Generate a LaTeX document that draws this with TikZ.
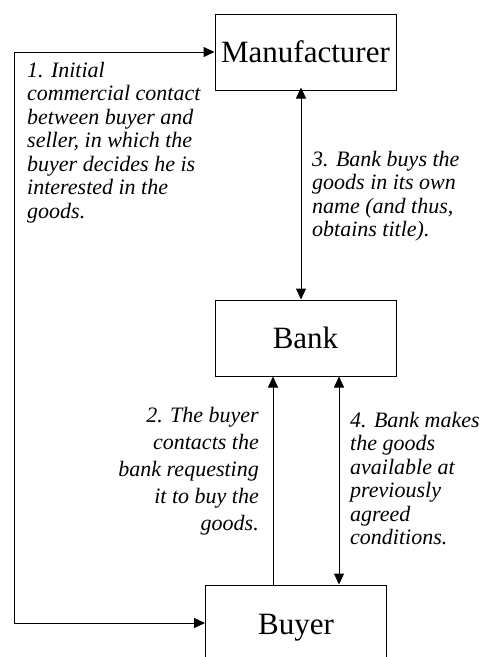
\documentclass[tikz,border=0pt]{standalone}
\usepackage{fontspec}
\setmainfont{Liberation Serif}
\usetikzlibrary{arrows.meta}
\begin{document}
\begin{tikzpicture}[x=1pt,y=-1pt,
  party/.style={draw,line width=1pt,minimum width=181pt,minimum height=76pt,
    inner sep=0pt,font=\fontsize{31}{34}\selectfont},
  note/.style={inner sep=0pt,font=\fontsize{22}{23.5}\selectfont\itshape},
  flow/.style={line width=1pt},
  tip/.tip={Triangle[length=11pt,width=10pt]}]
  \useasboundingbox (0,0) rectangle (481,657);
  \clip (0,0) rectangle (481,657);

  % parties
  \node[party] (mfr)   at (305.5,52)  {Manufacturer};
  \node[party] (bank)  at (305.5,338) {Bank};
  \node[party,minimum height=86pt] (buyer) at (296,628) {Buyer};

  % vertical connector lines
  \coordinate (x2) at (273,0);
  \coordinate (x3) at (301,0);
  \coordinate (x4) at (339,0);
  \coordinate (y1) at (0,623);

  % 1. buyer <-> manufacturer, around the left side
  \draw[flow,tip-tip] (mfr.west) -- ++(-200,0) |- (buyer.west |- y1);
  % 3. manufacturer <-> bank
  \draw[flow,tip-tip] ([yshift=3pt]mfr.south -| x3) -- (bank.north -| x3);
  % 2. buyer -> bank
  \draw[flow,-tip] (buyer.north -| x2) -- (bank.south -| x2);
  % 4. bank <-> buyer
  \draw[flow,tip-tip] (bank.south -| x4) -- (buyer.north -| x4);

  % step descriptions
  \node[note,anchor=north west,align=left] (n1) at (27,62)
    {1. Initial\\commercial contact\\between buyer and\\seller, in which the\\buyer decides he is\\interested in the\\goods.};
  \node[note,anchor=north west,align=left] (n3) at (312,151)
    {3. Bank buys the\\goods in its own\\name (and thus,\\obtains title).};
  \node[note,anchor=north east,align=right,
        font=\fontsize{22}{27}\selectfont\itshape] (n2) at (259,407)
    {2. The buyer\\contacts the\\bank requesting\\it to buy the\\goods.};
  \node[note,anchor=north west,align=left] (n4) at (350,412)
    {4. Bank makes\\the goods\\available at\\previously\\agreed\\conditions.};
\end{tikzpicture}
\end{document}
